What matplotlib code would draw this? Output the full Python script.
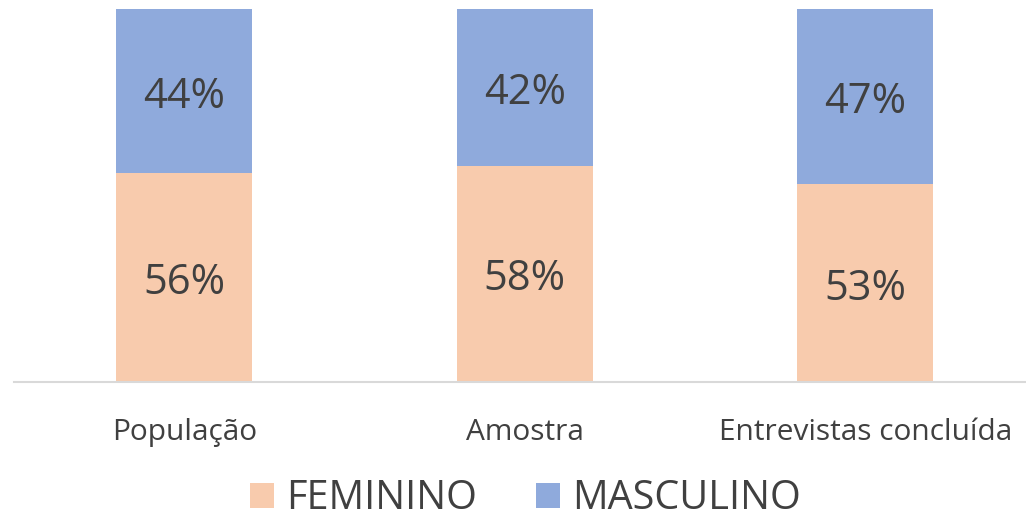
import numpy as np
import matplotlib.pyplot as plt

plt.rcParams['font.family'] = ['Open Sans', 'DejaVu Sans']

categories = ['População', 'Amostra', 'Entrevistas concluída']
feminino = [56, 58, 53]
masculino = [44, 42, 47]

fem_color = '#F8CBAD'
masc_color = '#8FAADC'
text_color = '#404040'

W, H = 1026, 519
fig = plt.figure(figsize=(W / 100, H / 100), dpi=100)
# axes placed in pixel terms: x=-0.5 at 14px, 340.5px per category; y 0..100 from 382px to 9px
x0, unit = 14, 340.5
ax = fig.add_axes([x0 / W, (H - 382) / H, (W - x0) / W, (382 - 9) / H])
ax.set_xlim(-0.5, -0.5 + (W - x0) / unit)
ax.set_ylim(0, 100)

x = np.arange(len(categories))
fem = np.array(feminino)
masc = np.array(masculino)
b1 = ax.bar(x, fem, width=0.4, color=fem_color, label='FEMININO')
b2 = ax.bar(x, masc, width=0.4, bottom=fem, color=masc_color, label='MASCULINO')

for xi, f, m in zip(x, fem, masc):
    ax.text(xi, f / 2 - 1.5, f'{f}%', ha='center', va='center', fontsize=30, color=text_color)
    ax.text(xi, f + m / 2 - 1.5, f'{m}%', ha='center', va='center', fontsize=30, color=text_color)

for s in ['top', 'right', 'left']:
    ax.spines[s].set_visible(False)
ax.spines['bottom'].set_color('#D9D9D9')
ax.spines['bottom'].set_linewidth(1.5)
ax.set_yticks([])
ax.set_xticks(x)
ax.set_xticklabels(categories, fontsize=21.5, color=text_color)
ax.tick_params(axis='x', length=0, pad=26)

fig.legend(handles=[b1, b2], loc='center', bbox_to_anchor=(0.512, (H - 499) / H),
           ncol=2, frameon=False, fontsize=28.5, labelcolor=text_color,
           handlelength=0.6, handleheight=0.6, handletextpad=0.3, columnspacing=1.5)

fig.savefig('out.png', dpi=100)
